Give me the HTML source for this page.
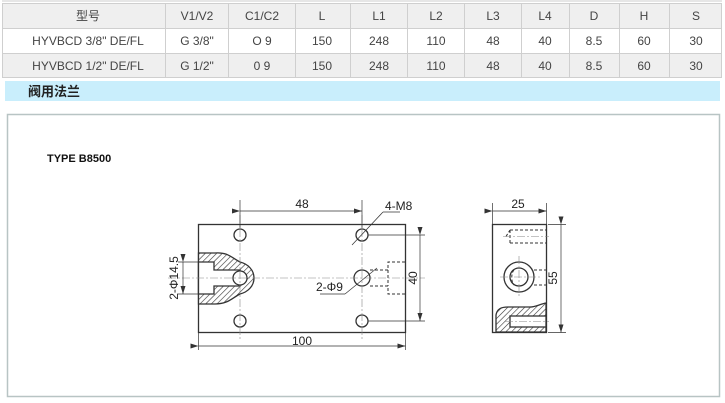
<!DOCTYPE html>
<html><head><meta charset="utf-8"><style>
html,body{margin:0;padding:0;background:#fff;}
svg{display:block;}
.t{font-family:"Liberation Sans","Noto Sans CJK SC",sans-serif;font-size:12px;fill:#444;text-anchor:middle;}
.d{font-family:"Liberation Sans",sans-serif;font-size:12px;fill:#222;}
</style></head><body>
<svg width="725" height="403" viewBox="0 0 725 403" xmlns="http://www.w3.org/2000/svg">
<defs>
<pattern id="h" width="4" height="4" patternUnits="userSpaceOnUse" patternTransform="rotate(45)">
<rect width="4" height="4" fill="#fff"/><line x1="0" y1="0" x2="0" y2="4" stroke="#333" stroke-width="1.2"/></pattern>
<marker id="a" markerWidth="8" markerHeight="6" refX="8" refY="3" orient="auto" markerUnits="userSpaceOnUse"><path d="M0,0.5 L8,3 L0,5.5" fill="#333"/></marker>
</defs>
<line x1="2" y1="1" x2="722" y2="1" stroke="#ccc"/>
<rect x="2" y="3" width="720" height="25" fill="#efefef"/>
<rect x="2" y="28" width="720" height="25" fill="#fff"/>
<rect x="2" y="53" width="720" height="25" fill="#efefef"/>
<g stroke="#cfcfcf" fill="none">
<rect x="2.5" y="3.5" width="719" height="74"/>
<line x1="2" y1="28.5" x2="722" y2="28.5"/><line x1="2" y1="53.5" x2="722" y2="53.5"/>
<line x1="165.5" y1="3" x2="165.5" y2="78"/><line x1="228.5" y1="3" x2="228.5" y2="78"/>
<line x1="295.5" y1="3" x2="295.5" y2="78"/><line x1="350.5" y1="3" x2="350.5" y2="78"/>
<line x1="407.5" y1="3" x2="407.5" y2="78"/><line x1="464.5" y1="3" x2="464.5" y2="78"/>
<line x1="521.5" y1="3" x2="521.5" y2="78"/><line x1="569.5" y1="3" x2="569.5" y2="78"/>
<line x1="619.5" y1="3" x2="619.5" y2="78"/><line x1="669.5" y1="3" x2="669.5" y2="78"/>
</g>
<g class="t">
<text x="88" y="20">型号</text><text x="197" y="20">V1/V2</text><text x="262" y="20">C1/C2</text><text x="322" y="20">L</text><text x="379" y="20">L1</text><text x="436" y="20">L2</text><text x="493" y="20">L3</text><text x="545" y="20">L4</text><text x="594" y="20">D</text><text x="644" y="20">H</text><text x="696" y="20">S</text>
<text x="88" y="45">HYVBCD 3/8" DE/FL</text><text x="197" y="45">G 3/8"</text><text x="262" y="45">O 9</text><text x="322" y="45">150</text><text x="379" y="45">248</text><text x="436" y="45">110</text><text x="493" y="45">48</text><text x="545" y="45">40</text><text x="594" y="45">8.5</text><text x="644" y="45">60</text><text x="696" y="45">30</text>
<text x="88" y="70">HYVBCD 1/2" DE/FL</text><text x="197" y="70">G 1/2"</text><text x="262" y="70">0 9</text><text x="322" y="70">150</text><text x="379" y="70">248</text><text x="436" y="70">110</text><text x="493" y="70">48</text><text x="545" y="70">40</text><text x="594" y="70">8.5</text><text x="644" y="70">60</text><text x="696" y="70">30</text>
</g>
<rect x="5" y="81" width="715" height="20" fill="#c9eefc"/>
<text x="28" y="96" style="font-family:'Liberation Sans','Noto Sans CJK SC',sans-serif;font-size:13px;font-weight:bold;fill:#222">阀用法兰</text>
<rect x="7.5" y="114.5" width="712" height="282" fill="#fff" stroke="#b8c4c4" stroke-width="1.5"/>
<text x="47" y="162" style="font-family:'Liberation Sans',sans-serif;font-size:11px;font-weight:bold;fill:#111">TYPE B8500</text>
<g stroke="#333" fill="none" stroke-width="1.3">
<rect x="198.5" y="224.5" width="207" height="108"/>
<path d="M198.5,253 L215,253 C228,252 232,258 240,262 C248,264 254,270 254,278 C254,286 248,292 240,294 C232,298 228,304 215,304 L198.5,304 Z" fill="url(#h)"/>
<path d="M198.5,262 L214,262 L214,270 L240,270 L240,286 L214,286 L214,294 L198.5,294 Z" fill="#fff"/>
<circle cx="240" cy="278" r="7" fill="#fff"/>
<circle cx="240" cy="235" r="6"/><circle cx="362" cy="235" r="6"/>
<circle cx="240" cy="321" r="6"/><circle cx="362" cy="321" r="6"/>
<circle cx="362" cy="278" r="8"/>
<g stroke-dasharray="3,2" stroke-width="1"><path d="M370,270 H388 V262 H405 M370,286 H388 V294 H405 M388,270 V286"/></g>
<g stroke="#888" stroke-width="0.6" stroke-dasharray="8,2,2,2"><line x1="168" y1="278" x2="425" y2="278"/><line x1="240" y1="215" x2="240" y2="340"/><line x1="362" y1="215" x2="362" y2="340"/></g>
<g stroke-width="0.7">
<line x1="240" y1="200" x2="240" y2="228"/><line x1="362" y1="200" x2="362" y2="228"/>
<line x1="240" y1="211" x2="362" y2="211" marker-start="url(#a)" marker-end="url(#a)"/>
<line x1="198.5" y1="333" x2="198.5" y2="350"/><line x1="405.5" y1="333" x2="405.5" y2="350"/>
<line x1="198.5" y1="346" x2="405.5" y2="346" marker-start="url(#a)" marker-end="url(#a)"/>
<line x1="368" y1="235" x2="425" y2="235"/><line x1="368" y1="321" x2="425" y2="321"/>
<line x1="420" y1="235" x2="420" y2="321" marker-start="url(#a)" marker-end="url(#a)"/>
<line x1="178" y1="262" x2="214" y2="262"/><line x1="178" y1="294" x2="214" y2="294"/>
<line x1="183" y1="262" x2="183" y2="294" marker-start="url(#a)" marker-end="url(#a)"/>
<line x1="352" y1="245" x2="383" y2="212"/><line x1="383" y1="212" x2="400" y2="212"/>
<line x1="345" y1="294" x2="377" y2="268"/><line x1="320" y1="294" x2="345" y2="294"/>
</g>
</g>
<text class="d" x="302" y="208" text-anchor="middle">48</text>
<text class="d" x="385" y="210">4-M8</text>
<text class="d" x="302" y="345" text-anchor="middle">100</text>
<text class="d" x="316" y="291">2-Φ9</text>
<text class="d" transform="translate(417,278) rotate(-90)" text-anchor="middle">40</text>
<text class="d" transform="translate(178,278) rotate(-90)" text-anchor="middle">2-Φ14.5</text>
<g stroke="#333" fill="none" stroke-width="1.3">
<rect x="492.5" y="224.5" width="54" height="108"/>
<path d="M496,332 L496,315 C497,309 501,307 508,307 L530,307 C536,307 540,304 546,303 L546,332 Z" fill="url(#h)"/>
<rect x="510" y="316" width="36" height="11" fill="#fff"/>
<circle cx="519" cy="277" r="15"/><circle cx="519" cy="277" r="9"/>
<g stroke-dasharray="3,2" stroke-width="1"><path d="M510,230 H546 M510,243 H546 M510,230 V243 M506,236.5 L510,230 M534,270 H546 M534,285 H546 M514,270 C511,273 511,282 514,285"/></g>
<g stroke="#888" stroke-width="0.6" stroke-dasharray="8,2,2,2"><line x1="500" y1="277" x2="540" y2="277"/><line x1="519" y1="256" x2="519" y2="298"/><line x1="503" y1="236.5" x2="549" y2="236.5"/><line x1="505" y1="321.5" x2="549" y2="321.5"/></g>
<g stroke-width="0.7">
<line x1="492.5" y1="203" x2="492.5" y2="224"/><line x1="546.5" y1="203" x2="546.5" y2="224"/>
<line x1="492.5" y1="211" x2="546.5" y2="211" marker-start="url(#a)" marker-end="url(#a)"/>
<line x1="548" y1="224.5" x2="566" y2="224.5"/><line x1="548" y1="332.5" x2="566" y2="332.5"/>
<line x1="561" y1="224.5" x2="561" y2="332.5" marker-start="url(#a)" marker-end="url(#a)"/>
</g>
</g>
<text class="d" x="518" y="208" text-anchor="middle">25</text>
<text class="d" transform="translate(557,278) rotate(-90)" text-anchor="middle">55</text>
</svg>
</body></html>
